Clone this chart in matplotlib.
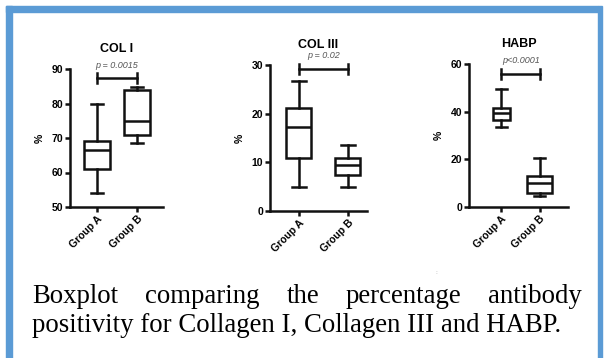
import matplotlib.pyplot as plt
from matplotlib.patches import Rectangle

# data
groups = ["Group A", "Group B"]
titles = ["COL I", "COL III", "HABP"]
p_texts = ["p = 0.0015", "p = 0.02", "p<0.0001"]

col1_a = [54, 61, 66.5, 69, 80]      # whislo, q1, med, q3, whishi
col1_b = [68.5, 71, 75, 84, 84.8]
col3_a = [5, 10.8, 17.2, 21.2, 26.8]
col3_b = [5, 7.5, 9.5, 10.8, 13.5]
habp_a = [33.5, 36.5, 39.3, 41.5, 49.5]
habp_b = [4.5, 6, 10, 13, 20.5]

sig_y = [87.4, 29.2, 55.8]
y_ticks = [[50, 60, 70, 80, 90], [0, 10, 20, 30], [0, 20, 40, 60]]

caption_1 = "Boxplot comparing the percentage antibody"
caption_2 = "positivity for Collagen I, Collagen III and HABP."

W, H = 604, 358
fig = plt.figure(figsize=(W / 100, H / 100), dpi=100)


def px_axes(left, top, right, bottom):
    return fig.add_axes([left / W, 1 - bottom / H, (right - left) / W, (bottom - top) / H])


def stats(v, label):
    return {"whislo": v[0], "q1": v[1], "med": v[2], "q3": v[3], "whishi": v[4],
            "label": label, "fliers": []}


# axes boxes in pixel coords: left, top, right, bottom
panels = [
    {"box": (70, 69, 163, 207), "xlim": (0.325, 2.65), "widths": [0.65, 0.65],
     "data": [col1_a, col1_b], "ylim": (50, 90)},
    {"box": (270, 65, 367, 211), "xlim": (0.41, 2.39), "widths": [0.51, 0.51],
     "data": [col3_a, col3_b], "ylim": (0, 30)},
    {"box": (469, 64, 568, 207), "xlim": (0.15, 2.74), "widths": [0.45, 0.66],
     "data": [habp_a, habp_b], "ylim": (0, 60)},
]

lw = 1.8
ink = "#111111"
sans = "Liberation Sans"
for i, p in enumerate(panels):
    ax = px_axes(*p["box"])
    bx = [stats(v, g) for v, g in zip(p["data"], groups)]
    ax.bxp(bx, positions=[1, 2], widths=p["widths"], showfliers=False,
           patch_artist=True, capwidths=0.3,
           boxprops=dict(facecolor="white", edgecolor=ink, linewidth=lw),
           medianprops=dict(color=ink, linewidth=lw),
           whiskerprops=dict(color=ink, linewidth=lw),
           capprops=dict(color=ink, linewidth=lw))
    ax.set_xlim(*p["xlim"])
    ax.set_ylim(*p["ylim"])
    ax.set_yticks(y_ticks[i])
    ax.set_xticks([1, 2])
    ax.set_xticklabels(groups, rotation=45, ha="right", rotation_mode="anchor",
                       fontsize=7.5, fontweight="bold", family=sans)
    for lab in ax.get_yticklabels():
        lab.set_fontsize(7.5)
        lab.set_fontweight("bold")
        lab.set_family(sans)
    ax.tick_params(width=lw, length=3.5, color=ink, pad=1.5)
    for s in ["top", "right"]:
        ax.spines[s].set_visible(False)
    for s in ["left", "bottom"]:
        ax.spines[s].set_linewidth(lw)
        ax.spines[s].set_color(ink)
    ax.set_ylabel("%", fontsize=7.5, fontweight="bold", family=sans, labelpad=5)
    ax.set_title(titles[i], fontsize=9, fontweight="bold", family=sans, pad=12)
    ax.patch.set_alpha(0)

    # significance bar
    y = sig_y[i]
    span = p["ylim"][1] - p["ylim"][0]
    ax.plot([1, 2], [y, y], color=ink, lw=lw, clip_on=False)
    for xb in [1, 2]:
        ax.plot([xb, xb], [y - span * 0.035, y + span * 0.035], color=ink, lw=lw,
                clip_on=False)
    ax.text(1.5, y + span * 0.06, p_texts[i], ha="center", va="bottom", fontsize=6.5,
            style="italic", color="#555555", family=sans)

# blue frame
blue = "#5b9bd5"
fig.patches.append(Rectangle((6 / W, 0), 6 / W, 1 - 6 / H, transform=fig.transFigure,
                             color=blue, zorder=5))
fig.patches.append(Rectangle((6 / W, 1 - 12 / H), (598 - 6) / W, 6 / H,
                             transform=fig.transFigure, color=blue, zorder=5))
fig.patches.append(Rectangle((598 / W, 0), 4 / W, 1 - 6 / H, transform=fig.transFigure,
                             color=blue, zorder=5))

# tiny mark in the scan
fig.text(436 / W, 1 - 273 / H, ":", fontsize=4, color="#999999", ha="center", va="center")

# caption, first line justified
cap_font = dict(family="Liberation Serif", fontsize=19.3, color="black")
x0, x1 = 32, 582
words = caption_1.split()
renderer = fig.canvas.get_renderer()
texts = [fig.text(0, 1 - 303 / H, w, ha="left", va="baseline", **cap_font) for w in words]
widths = [t.get_window_extent(renderer).width for t in texts]
gap = (x1 - x0 - sum(widths)) / (len(words) - 1)
x = x0
for t, w in zip(texts, widths):
    t.set_x(x / W)
    x += w + gap
fig.text(x0 / W, 1 - 332 / H, caption_2, ha="left", va="baseline", **cap_font)

fig.savefig("out.png", dpi=100)
